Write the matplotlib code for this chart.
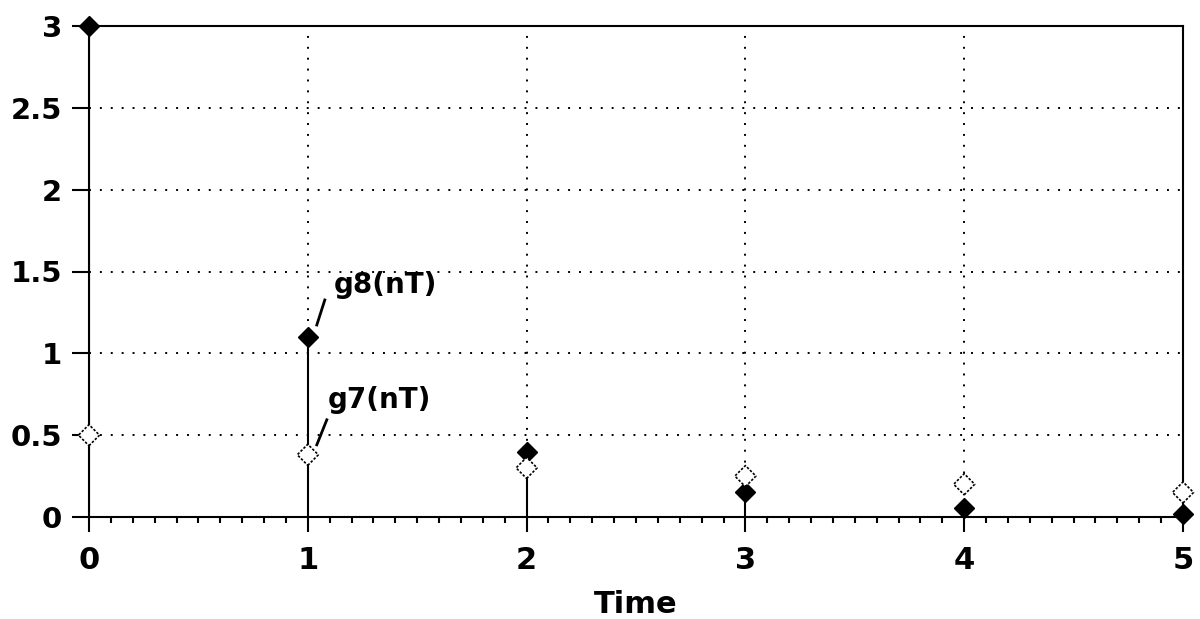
import numpy as np
import matplotlib
matplotlib.use("Agg")
import matplotlib.pyplot as plt
from matplotlib.ticker import MultipleLocator
from matplotlib.transforms import ScaledTranslation

# sample instants and the two sampled sequences
times = [0, 1, 2, 3, 4, 5]
g8_vals = [3.0, 1.1, 0.4, 0.15, 0.055, 0.02]
g7_vals = [0.5, 0.38, 0.3, 0.25, 0.2, 0.15]
y_ticks = [0, 0.5, 1, 1.5, 2, 2.5, 3]
y_labels = ["0", "0.5", "1", "1.5", "2", "2.5", "3"]

plt.rcParams['font.family'] = ['DejaVu Sans']
plt.rcParams['font.weight'] = 'bold'

W, H = 1200, 619
fig = plt.figure(figsize=(W / 100, H / 100), dpi=100)
ax = fig.add_axes([89 / W, 1 - 517 / H, (1183 - 89) / W, (517 - 26) / H])

ax.set_xlim(0, 5)
ax.set_ylim(0, 3)

# stems + markers
ax.vlines(times, 0, g8_vals, color='black', lw=1.5, zorder=3)
ax.plot(times, g8_vals, 'D', color='black', ms=10.5, clip_on=False, zorder=4)
ax.scatter(times, g7_vals, marker='D', s=115, facecolors='white', edgecolors='black',
           linewidths=1.2, linestyles=(0, (1.5, 1.0)), clip_on=False, zorder=5)

# axes styling
for sp in ax.spines.values():
    sp.set_linewidth(1.5)
ax.grid(True, color='black', linestyle=(0, (1, 4.6)), linewidth=1.4)
ax.set_axisbelow(True)

ax.set_xticks(times)
ax.set_xticklabels([str(t) for t in times])
ax.xaxis.set_minor_locator(MultipleLocator(0.1))
ax.set_yticks(y_ticks)
ax.set_yticklabels(y_labels)
ax.tick_params(axis='x', which='major', length=11, width=1.5, pad=10, labelsize=22)
ax.tick_params(axis='x', which='minor', length=4, width=1.5)
ax.tick_params(axis='y', which='major', length=12, width=1.5, pad=7.5, labelsize=21)
ax.set_xlabel("Time", fontsize=22, fontweight='bold', labelpad=11)


def tag(i, vals, text, slash, txt):
    # slash and text placed in pixel offsets from the marker
    tr = fig.dpi_scale_trans + ScaledTranslation(times[i], vals[i], ax.transData)
    (x0, y0), (x1, y1) = slash
    ax.plot([x0 / 100, x1 / 100], [y0 / 100, y1 / 100], color='black', lw=2,
            transform=tr, clip_on=False, zorder=6)
    ax.text(txt[0] / 100, txt[1] / 100, text, transform=tr, fontsize=20,
            fontweight='bold', va='baseline', ha='left', zorder=6)


tag(1, g8_vals, "g8(nT)", ((9, 12), (17, 37)), (26, 44))
tag(1, g7_vals, "g7(nT)", ((9, 10), (19, 35)), (20, 47))

fig.savefig("out.png", dpi=100, facecolor='white')
